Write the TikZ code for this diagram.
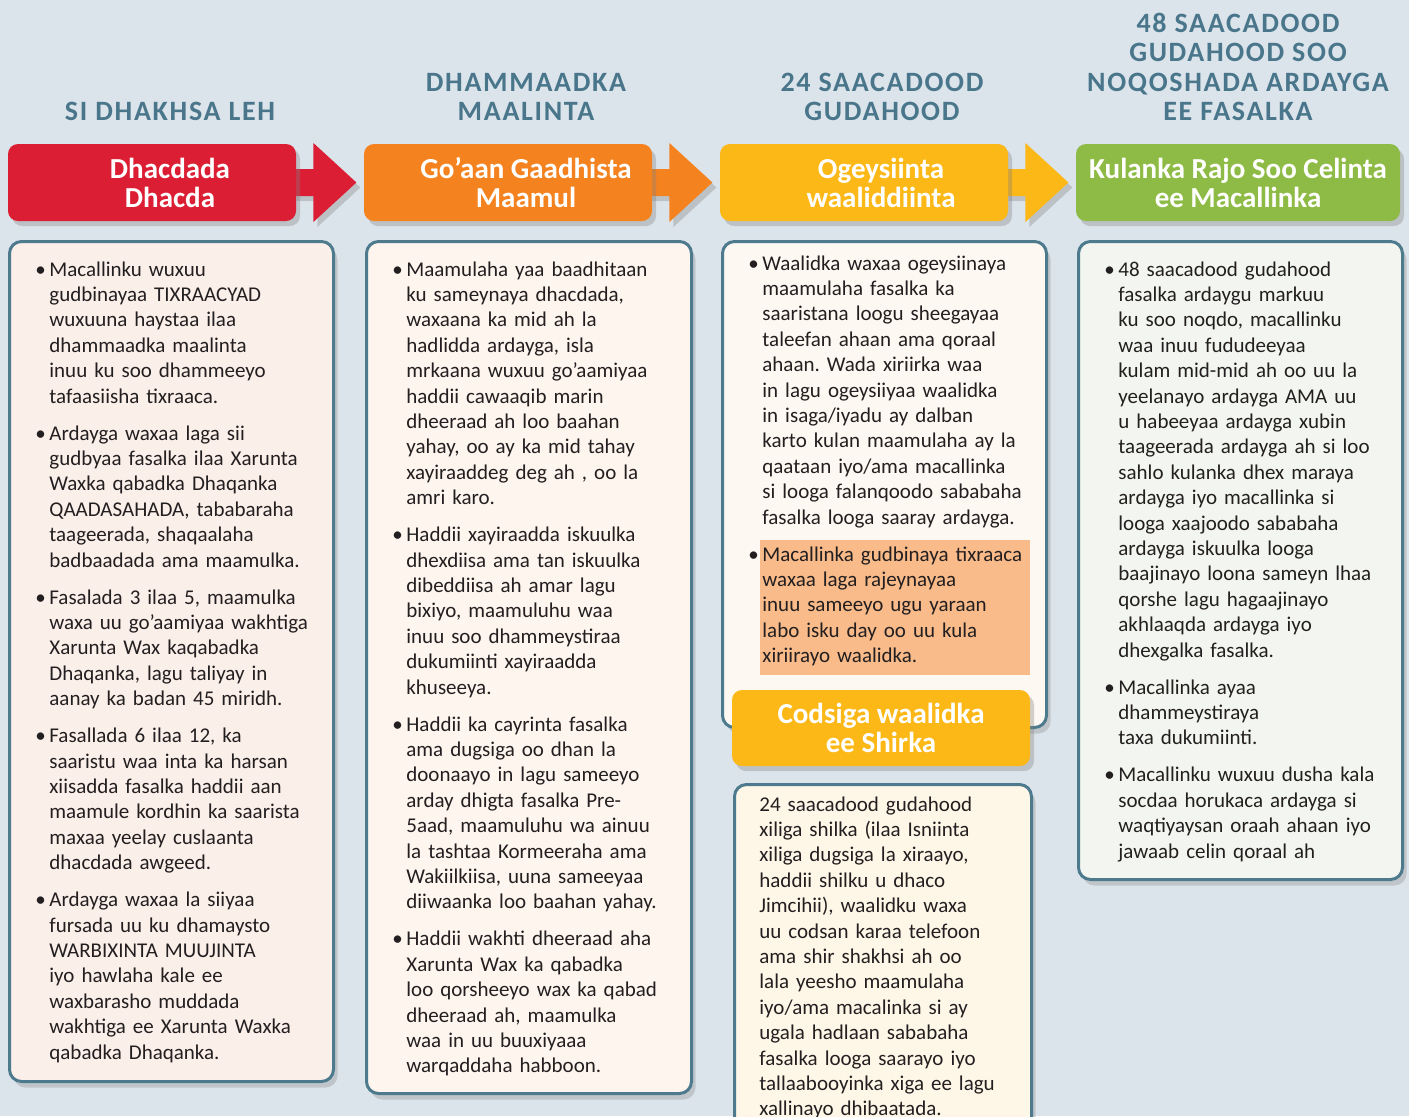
\documentclass[tikz,border=0pt]{standalone}
\usepackage{xcolor}
\usepackage{fontspec}
\setmainfont{Carlito}
\newfontfamily\headfont[LetterSpace=6]{Carlito}
\usetikzlibrary{positioning, shadows}

\definecolor{pagebg}{HTML}{DCE4EB}
\definecolor{cred}{HTML}{DC1E35}
\definecolor{corange}{HTML}{F4821F}
\definecolor{cyellow}{HTML}{FBB817}
\definecolor{cgreen}{HTML}{8EBB45}
\definecolor{hilite}{HTML}{F9BB89}
\definecolor{ttlblue}{HTML}{4A768B}
\definecolor{edge}{HTML}{4D7A8D}
\definecolor{ink}{HTML}{231F20}
\definecolor{fillA}{HTML}{FBEFEA}
\definecolor{fillB}{HTML}{FDF5EE}
\definecolor{fillC}{HTML}{FDF8F1}
\definecolor{fillD}{HTML}{F3F6F0}
\definecolor{fillE}{HTML}{FEF7E8}

\pgfdeclarelayer{bg}
\pgfdeclarelayer{mid}
\pgfsetlayers{bg,mid,main}

\newcommand{\bpt}[1]{{\leftskip=7pt\noindent\llap{\makebox[7pt][l]{\textbullet}}\strut#1\par}}
\newcommand{\gap}{\vspace{5.8pt}}

\begin{document}
\begin{tikzpicture}[x=0.5pt, y=-0.5pt, on grid,
    hdr/.style={rounded corners=5pt, minimum width=144pt, minimum height=38.5pt,
      drop shadow={shadow xshift=2pt, shadow yshift=-2.5pt, opacity=.35}},
    hdrtext/.style={text=white, align=center, inner sep=0pt,
      font=\fontsize{14.5}{14.5}\selectfont\bfseries},
    cbox/.style={draw=edge, line width=1.5pt, rounded corners=6pt, anchor=north west,
      inner sep=0pt, drop shadow={shadow xshift=2pt, shadow yshift=-3pt, opacity=.3}},
    colttl/.style={anchor=south, inner sep=0pt, text depth=0pt, align=center,
      text=ttlblue, font=\headfont\bfseries\fontsize{14}{14.75}\selectfont},
    body/.style={anchor=north west, inner sep=0pt, text width=150pt, align=left,
      text=ink, font=\fontsize{10.5}{12.7}\selectfont\frenchspacing},
    blockarrow/.style={drop shadow={shadow xshift=2pt, shadow yshift=-2.5pt, opacity=.35}}]
  \useasboundingbox (0,0) rectangle (1409,1116);
  \begin{pgfonlayer}{bg}
    \fill[pagebg] (0,0) rectangle (1409,1116);
  \end{pgfonlayer}

  \node[colttl] (ttl_1) at (170,121)  {SI DHAKHSA LEH};
  \node[colttl] (ttl_2) at (526,121)  {DHAMMAADKA\\MAALINTA};
  \node[colttl] (ttl_3) at (882,121)  {24 SAACADOOD\\GUDAHOOD};
  \node[colttl] (ttl_4) at (1238,121) {48 SAACADOOD\\GUDAHOOD SOO\\NOQOSHADA ARDAYGA\\EE FASALKA};

  \node[hdr, fill=cred]                                         (hdr_1) at (152,182.5) {};
  \node[hdr, fill=corange, right=178pt of hdr_1]                (hdr_2) {};
  \node[hdr, fill=cyellow, right=178pt of hdr_2]                (hdr_3) {};
  \node[hdr, fill=cgreen, minimum width=162pt, right=187pt of hdr_3] (hdr_4) {};

  \node[hdrtext] (lbl_1) at ([xshift=9pt]hdr_1.center) {Dhacdada\\Dhacda};
  \node[hdrtext] (lbl_2) at ([xshift=9pt]hdr_2.center) {Go’aan Gaadhista\\Maamul};
  \node[hdrtext] (lbl_3) at ([xshift=8.5pt]hdr_3.center) {Ogeysiinta\\waaliddiinta};
  \node[hdrtext] (lbl_4) at (hdr_4.center) {Kulanka Rajo Soo Celinta\\ee Macallinka};

  \begin{pgfonlayer}{mid}
    \foreach \a/\c in {hdr_1/cred, hdr_2/corange, hdr_3/cyellow}
      \fill[\c, blockarrow] (\a.east) ++(-4,-13.5) -- ++(21,0) -- ++(0,-26) -- ++(43,39.5)
        -- ++(-43,39.5) -- ++(0,-26) -- ++(-21,0) -- cycle;
  \end{pgfonlayer}

  \node[cbox, fill=fillA, minimum width=162pt, minimum height=420pt]   (box_1) at (8,240) {};
  \node[cbox, fill=fillB, minimum width=162.5pt, minimum height=426pt] (box_2) at (365,240) {};
  \node[cbox, fill=fillC, minimum width=162pt, minimum height=243pt]   (box_3) at (721,240) {};
  \node[cbox, fill=fillD, minimum width=162pt, minimum height=319pt]   (box_4) at (1077,240) {};
  \node[cbox, fill=fillE, minimum width=148.5pt, minimum height=190pt] (box_5) at (733,783) {};

  \node[fill=hilite, anchor=north west, inner sep=0pt, minimum width=135pt, minimum height=67.5pt] (mark_3) at (760,540) {};

  \node[hdr, fill=cyellow, minimum width=149pt, minimum height=38pt] (hdr_5) at (881,728) {};
  \node[hdrtext] (lbl_5) at (hdr_5.center) {Codsiga waalidka\\ee Shirka};

  \node[body] (txt_1) at (35,258) {%
    \bpt{Macallinku wuxuu\\gudbinayaa TIXRAACYAD\\wuxuuna haystaa ilaa\\dhammaadka maalinta\\inuu ku soo dhammeeyo\\tafaasiisha tixraaca.}\gap
    \bpt{Ardayga waxaa laga sii\\gudbyaa fasalka ilaa Xarunta\\Waxka qabadka Dhaqanka\\QAADASAHADA, tababaraha\\taageerada, shaqaalaha\\badbaadada ama maamulka.}\gap
    \bpt{Fasalada 3 ilaa 5, maamulka\\waxa uu go’aamiyaa wakhtiga\\Xarunta Wax kaqabadka\\Dhaqanka, lagu taliyay in\\aanay ka badan 45 miridh.}\gap
    \bpt{Fasallada 6 ilaa 12, ka\\saaristu waa inta ka harsan\\xiisadda fasalka haddii aan\\maamule kordhin ka saarista\\maxaa yeelay cuslaanta\\dhacdada awgeed.}\gap
    \bpt{Ardayga waxaa la siiyaa\\fursada uu ku dhamaysto\\WARBIXINTA MUUJINTA\\iyo hawlaha kale ee\\waxbarasho muddada\\wakhtiga ee Xarunta Waxka\\qabadka Dhaqanka.}};

  \node[body] (txt_2) at (392,258) {%
    \bpt{Maamulaha yaa baadhitaan\\ku sameynaya dhacdada,\\waxaana ka mid ah la\\hadlidda ardayga, isla\\mrkaana wuxuu go’aamiyaa\\haddii cawaaqib marin\\dheeraad ah loo baahan\\yahay, oo ay ka mid tahay\\xayiraaddeg deg ah , oo la\\amri karo.}\gap
    \bpt{Haddii xayiraadda iskuulka\\dhexdiisa ama tan iskuulka\\dibeddiisa ah amar lagu\\bixiyo, maamuluhu waa\\inuu soo dhammeystiraa\\dukumiinti xayiraadda\\khuseeya.}\gap
    \bpt{Haddii ka cayrinta fasalka\\ama dugsiga oo dhan la\\doonaayo in lagu sameeyo\\arday dhigta fasalka Pre-\\5aad, maamuluhu wa ainuu\\la tashtaa Kormeeraha ama\\Wakiilkiisa, uuna sameeyaa\\diiwaanka loo baahan yahay.}\gap
    \bpt{Haddii wakhti dheeraad aha\\Xarunta Wax ka qabadka\\loo qorsheeyo wax ka qabad\\dheeraad ah, maamulka\\waa in uu buuxiyaaa\\warqaddaha habboon.}};

  \node[body] (txt_3) at (748,252) {%
    \bpt{Waalidka waxaa ogeysiinaya\\maamulaha fasalka ka\\saaristana loogu sheegayaa\\taleefan ahaan ama qoraal\\ahaan. Wada xiriirka waa\\in lagu ogeysiiyaa waalidka\\in isaga/iyadu ay dalban\\karto kulan maamulaha ay la\\qaataan iyo/ama macallinka\\si looga falanqoodo sababaha\\fasalka looga saaray ardayga.}\gap
    \bpt{Macallinka gudbinaya tixraaca\\waxaa laga rajeynayaa\\inuu sameeyo ugu yaraan\\labo isku day oo uu kula\\xiriirayo waalidka.}};

  \node[body] (txt_4) at (1104,258) {%
    \bpt{48 saacadood gudahood\\fasalka ardaygu markuu\\ku soo noqdo, macallinku\\waa inuu fududeeyaa\\kulam mid-mid ah oo uu la\\yeelanayo ardayga AMA uu\\u habeeyaa ardayga xubin\\taageerada ardayga ah si loo\\sahlo kulanka dhex maraya\\ardayga iyo macallinka si\\looga xaajoodo sababaha\\ardayga iskuulka looga\\baajinayo loona sameyn lhaa\\qorshe lagu hagaajinayo\\akhlaaqda ardayga iyo\\dhexgalka fasalka.}\gap
    \bpt{Macallinka ayaa\\dhammeystiraya\\taxa dukumiinti.}\gap
    \bpt{Macallinku wuxuu dusha kala\\socdaa horukaca ardayga si\\waqtiyaysan oraah ahaan iyo\\jawaab celin qoraal ah}};

  \node[body] (txt_5) at (759,793) {%
    \noindent\strut 24 saacadood gudahood\\xiliga shilka (ilaa Isniinta\\xiliga dugsiga la xiraayo,\\haddii shilku u dhaco\\Jimcihii), waalidku waxa\\uu codsan karaa telefoon\\ama shir shakhsi ah oo\\lala yeesho maamulaha\\iyo/ama macalinka si ay\\ugala hadlaan sababaha\\fasalka looga saarayo iyo\\tallaabooyinka xiga ee lagu\\xallinayo dhibaatada.\par};
\end{tikzpicture}
\end{document}
